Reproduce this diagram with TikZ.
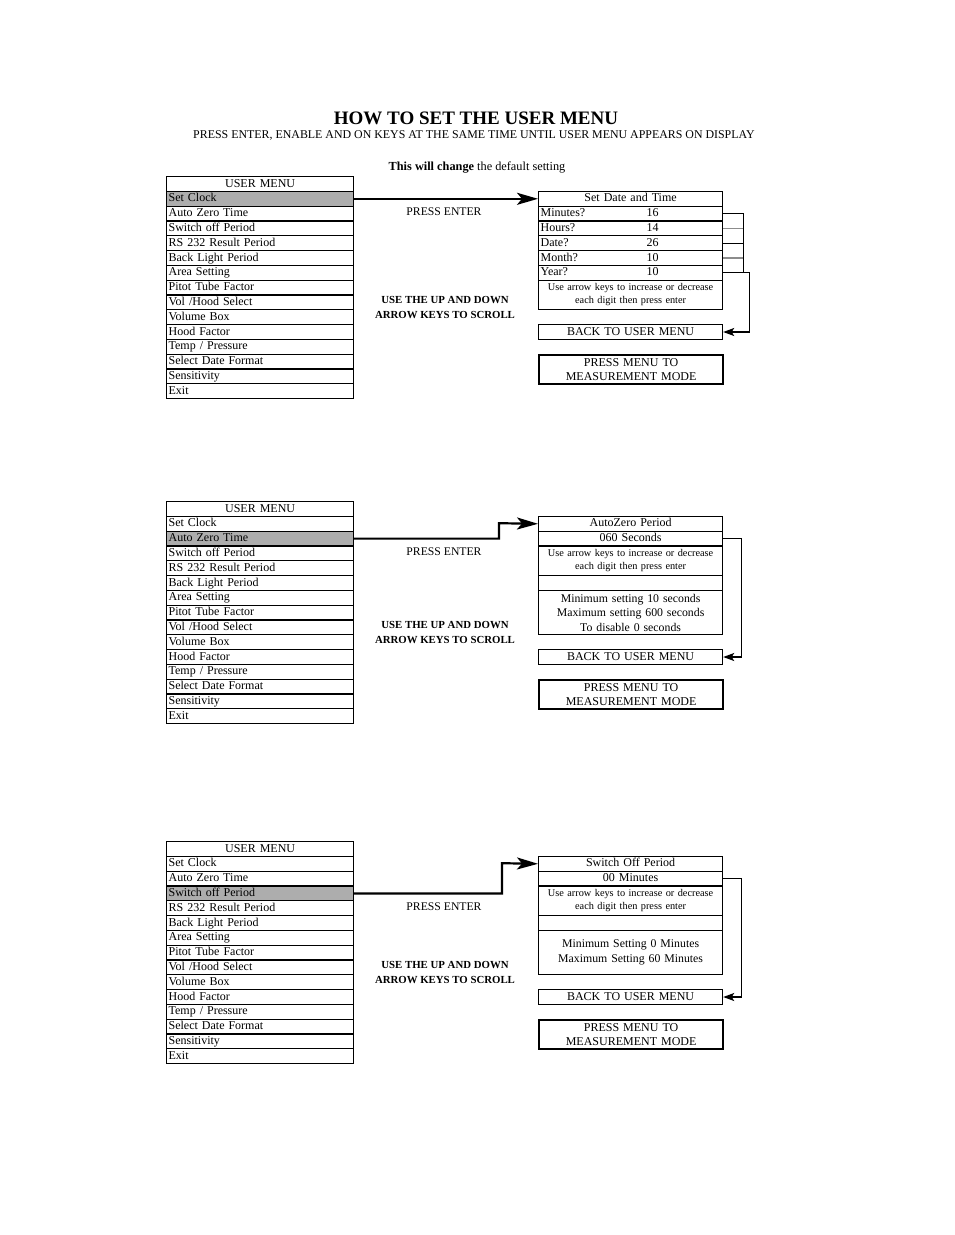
\documentclass[tikz,border=0pt]{standalone}
\usepackage{fontspec}
\setmainfont{Liberation Serif}
\usetikzlibrary{arrows.meta}
\colorlet{menuSel}{black!32}
\colorlet{linkG}{black!45}
\tikzstyle{box}=[draw, anchor=north west, inner xsep=2pt, inner ysep=0pt, line width=1.2pt, font=\fontsize{12}{14.5}\selectfont]
\tikzstyle{row}=[box, minimum height=14.8pt, text width=183pt, align=left, text height=8.5pt, text depth=2.5pt]
\tikzstyle{prow}=[row, text width=180pt, align=center]
\tikzstyle{pbox}=[box, text width=180pt, align=center]
\tikzstyle{hint}=[pbox, minimum height=29.6pt, font=\fontsize{10.3}{13}\selectfont]
\tikzstyle{enter}=[line width=2.2pt, -{Stealth[length=21pt, width=12pt, inset=5pt]}]
\tikzstyle{back}=[line width=1.3pt, -{Stealth[length=11pt, width=8pt, inset=2.5pt]}]
\tikzstyle{link}=[line width=1.3pt]
\tikzstyle{say}=[font=\fontsize{11.7}{14}\selectfont]
\tikzstyle{scroll}=[align=center, font=\fontsize{10.8}{15}\selectfont\bfseries]

\begin{document}
\begin{tikzpicture}[x=1pt, y=-1pt]
	\path[fill=white] (0,0) rectangle (954,1235);

	% Heading
	\node[font=\fontsize{19}{22}\selectfont\bfseries] (head) at (476,118) {HOW TO SET THE USER MENU};
	\node[font=\fontsize{11.9}{13}\selectfont] (sub) at (474,135.5) {PRESS ENTER, ENABLE AND ON KEYS AT THE SAME TIME UNTIL USER MENU APPEARS ON DISPLAY};
	\node[font=\fontsize{12.3}{14}\selectfont] (warn) at (477,168) {\textbf{This will change} the default setting};

	% The three user menus, one row shaded in each
	\foreach \m/\top/\sel in {a/176/1, b/501/2, c/841/3}{
		\node[row, align=center] (\m-0) at (166,\top) {USER MENU};
		\foreach \item [count=\i] in {Set Clock, Auto Zero Time, Switch off Period, RS 232 Result Period,
			Back Light Period, Area Setting, Pitot Tube Factor, Vol /Hood Select, Volume Box,
			Hood Factor, Temp / Pressure, Select Date Format, Sensitivity, Exit}{
			\ifnum\i=\sel \def\shade{menuSel}\else \def\shade{white}\fi
			\node[row, fill=\shade] (\m-\i) at (166,{\top+\i*14.8}) {\item};
		}
	}

	% Set Date and Time
	\node[prow] (p1-title) at (538,190.8) {Set Date and Time};
	\node[prow, align=left] (p1-min) at (538,205.6) {\makebox[106pt][l]{Minutes?}16};
	\node[prow, align=left] (p1-hour) at (538,220.4) {\makebox[106pt][l]{Hours?}14};
	\node[prow, align=left] (p1-date) at (538,235.2) {\makebox[106pt][l]{Date?}26};
	\node[prow, align=left] (p1-month) at (538,250) {\makebox[106pt][l]{Month?}10};
	\node[prow, align=left] (p1-year) at (538,264.8) {\makebox[106pt][l]{Year?}10};
	\node[hint] (p1-hint) at (538,279.6) {Use arrow keys to increase or decrease\\each digit then press enter};
	\node[prow] (p1-back) at (538,324) {BACK TO USER MENU};
	\node[pbox, minimum height=29.6pt, line width=2.2pt] (p1-mode) at (538,353.6) {PRESS MENU TO\\MEASUREMENT MODE};

	\draw[enter] (a-1.east) -- (p1-title.west);
	\draw[link] (p1-min.east) -- ++(20,0) coordinate (t1) -- (t1 |- p1-year.east);
	\draw[link, linkG] (p1-hour.east) -- (p1-hour.east -| t1);
	\draw[link] (p1-date.east) -- (p1-date.east -| t1);
	\draw[link, linkG] (p1-month.east) -- (p1-month.east -| t1);
	\draw[back] (p1-year.east) -- ++(26,0) |- (p1-back.east);
	\node[say] (e1) at (444,212) {PRESS ENTER};
	\node[scroll] (s1) at (445,307.5) {USE THE UP AND DOWN\\ARROW KEYS TO SCROLL};

	% AutoZero Period
	\node[prow] (p2-title) at (538,515.8) {AutoZero Period};
	\node[prow] (p2-val) at (538,530.6) {060 Seconds};
	\node[hint] (p2-hint) at (538,545.4) {Use arrow keys to increase or decrease\\each digit then press enter};
	\node[prow] (p2-gap) at (538,575) {};
	\node[pbox, minimum height=44.4pt, font=\fontsize{11.8}{14.5}\selectfont] (p2-lim) at (538,589.8) {Minimum setting 10 seconds\\Maximum setting 600 seconds\\To disable 0 seconds};
	\node[prow] (p2-back) at (538,649) {BACK TO USER MENU};
	\node[pbox, minimum height=29.6pt, line width=2.2pt] (p2-mode) at (538,678.6) {PRESS MENU TO\\MEASUREMENT MODE};

	\coordinate (k2) at (499,523.2);
	\draw[enter] (b-2.east) -| (k2) -- (p2-title.west);
	\draw[back] (p2-val.east) -- ++(18,0) |- (p2-back.east);
	\node[say] (e2) at (444,552) {PRESS ENTER};
	\node[scroll] (s2) at (445,632.5) {USE THE UP AND DOWN\\ARROW KEYS TO SCROLL};

	% Switch Off Period
	\node[prow] (p3-title) at (538,855.8) {Switch Off Period};
	\node[prow] (p3-val) at (538,870.6) {00 Minutes};
	\node[hint] (p3-hint) at (538,885.4) {Use arrow keys to increase or decrease\\each digit then press enter};
	\node[prow] (p3-gap) at (538,915) {};
	\node[pbox, minimum height=44.4pt, font=\fontsize{11.8}{15}\selectfont] (p3-lim) at (538,929.8) {Minimum Setting 0 Minutes\\Maximum Setting 60 Minutes};
	\node[prow] (p3-back) at (538,989) {BACK TO USER MENU};
	\node[pbox, minimum height=29.6pt, line width=2.2pt] (p3-mode) at (538,1018.6) {PRESS MENU TO\\MEASUREMENT MODE};

	\coordinate (k3) at (502,863.2);
	\draw[enter] (c-3.east) -| (k3) -- (p3-title.west);
	\draw[back] (p3-val.east) -- ++(18,0) |- (p3-back.east);
	\node[say] (e3) at (444,907) {PRESS ENTER};
	\node[scroll] (s3) at (445,972.5) {USE THE UP AND DOWN\\ARROW KEYS TO SCROLL};
\end{tikzpicture}
\end{document}
